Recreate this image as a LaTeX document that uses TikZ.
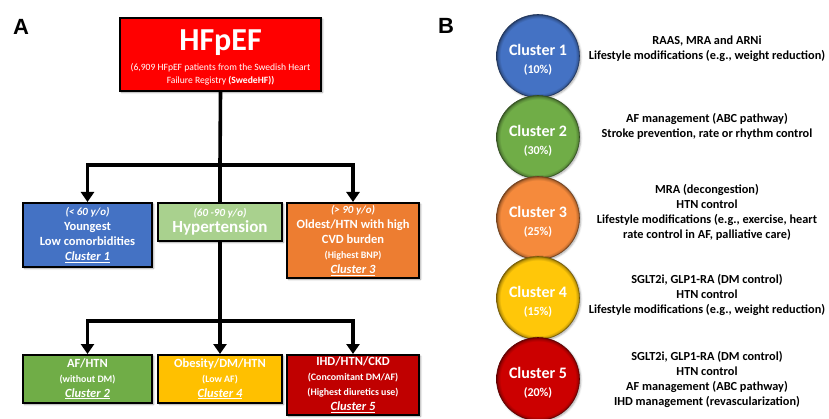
\documentclass[tikz,border=0pt]{standalone}
\usepackage{fontspec}
\setmainfont{Carlito}
\newfontfamily\panelfont{Liberation Sans}
\usetikzlibrary{arrows.meta, positioning, calc, shadows.blur}
\usepackage{xcolor}
\definecolor{hfred}{HTML}{ff0000}
\definecolor{cloneblue}{HTML}{4472c4}
\definecolor{hyplight}{HTML}{a9d18e}
\definecolor{clthreeorange}{HTML}{ed7d31}
\definecolor{cltwogreen}{HTML}{70ad47}
\definecolor{clfouryellow}{HTML}{ffc000}
\definecolor{clfivered}{HTML}{c00000}
\definecolor{ballorange}{HTML}{f58a3c}
\definecolor{ballyellow}{HTML}{ffc709}
\definecolor{ballred}{HTML}{cc0000}
\colorlet{ringc}{cloneblue}
\pgfdeclareradialshading[ringc]{ring}{\pgfpoint{0bp}{0bp}}{%
  color(0bp)=(ringc); color(22.6bp)=(ringc); color(24.2bp)=(ringc!78!black);
  color(25bp)=(ringc!55!black); color(50bp)=(ringc!55!black)}
\tikzset{
  clbox/.style={rectangle, draw=black, line width=1.6pt, text=white,
                align=center, font=\bfseries, inner sep=2pt, anchor=north,
                blur shadow={shadow xshift=1.5pt, shadow yshift=-1.5pt,
                             shadow blur steps=4, shadow opacity=40}},
  ballcol/.code={\colorlet{ringc}{#1}},
  ball/.style={circle, minimum size=83pt, inner sep=0pt, shading=ring,
               ballcol=#1, draw=#1!45!black, line width=0.6pt, text=white,
               align=center, font=\fontsize{16}{17.5}\selectfont\bfseries,
               blur shadow={shadow xshift=1.2pt, shadow yshift=-1.2pt,
                            shadow blur steps=4, shadow opacity=35}},
  txlist/.style={align=center, font=\fontsize{12.3}{15}\selectfont\bfseries},
  trunk/.style={line width=3.6pt, draw=black, line join=miter},
  branch/.style={trunk, -{Triangle[length=10pt, width=13pt]}},
  panel/.style={font=\panelfont\fontsize{22}{24}\selectfont\bfseries},
}
\newcommand{\agebr}[1]{{\fontsize{11}{13}\selectfont\itshape #1}}
\newcommand{\clname}[1]{{\fontsize{12.5}{15}\selectfont\underline{\itshape Cluster #1}}}
\newcommand{\subnote}[1]{{\fontsize{9.9}{12.5}\selectfont #1}}
\newcommand{\ballname}[2]{\rule{0pt}{19pt}Cluster #1\\{\fontsize{12}{14}\selectfont (#2\%)}}

\begin{document}
\begin{tikzpicture}[x=1pt, y=-1pt]
  \useasboundingbox (0,0) rectangle (829,419);

  % --- panel A ---
  \node[panel] (pa) at (21,27) {A};
  \coordinate (split1) at (220,165);
  \coordinate (split2) at (220,321);

  \node[clbox, fill=hfred, minimum width=201pt, minimum height=73pt,
        font=\fontsize{9.6}{13}\selectfont] (hf) at (220.5,17)
    {{\fontsize{32}{34}\selectfont\bfseries\rule{0pt}{28pt}HFpEF}\\[7pt]
     (6,909 HFpEF patients from the Swedish Heart\\
     Failure Registry \textbf{(SwedeHF))}};

  \node[clbox, fill=cloneblue, minimum width=129pt, minimum height=64pt,
        font=\fontsize{12.5}{15}\selectfont\bfseries] (cl1) at (87.5,202)
    {\agebr{(< 60 y/o)}\\Youngest\\Low comorbidities\\\clname{1}};
  \node[clbox, fill=hyplight, minimum width=124pt, minimum height=38pt,
        font=\fontsize{12}{16}\selectfont\bfseries] (hyp) at (220,202)
    {\agebr{(60 -90 y/o)}\\{\fontsize{17}{19}\selectfont Hypertension}};
  \node[clbox, fill=clthreeorange, minimum width=132pt, minimum height=75pt,
        font=\fontsize{12.5}{15}\selectfont\bfseries] (cl3) at (353,202)
    {\agebr{(> 90 y/o)}\\Oldest/HTN with high\\CVD burden\\\subnote{(Highest BNP)}\\\clname{3}};

  \node[clbox, fill=cltwogreen, minimum width=129pt, minimum height=48pt,
        font=\fontsize{12.5}{15}\selectfont\bfseries] (cl2) at (87.5,354)
    {AF/HTN\\\subnote{(without DM)}\\\clname{2}};
  \node[clbox, fill=clfouryellow, minimum width=124pt, minimum height=48pt,
        font=\fontsize{12.5}{15}\selectfont\bfseries] (cl4) at (220,354)
    {Obesity/DM/HTN\\\subnote{(Low AF)}\\\clname{4}};
  \node[clbox, fill=clfivered, minimum width=132pt, minimum height=60pt,
        font=\fontsize{12.5}{15}\selectfont\bfseries] (cl5) at (353,354)
    {IHD/HTN/CKD\\\subnote{(Concomitant DM/AF)}\\\subnote{(Highest diuretics use)}\\\clname{5}};

  \draw[trunk] (hf.south) -- (split1);
  \draw[trunk] (split1) -- (hyp.north);
  \draw[branch] (split1) -| (cl1.north);
  \draw[branch] (split1) -| (cl3.north);

  \draw[trunk] (hyp.south) -- (split2);
  \draw[branch] (split2) -- (cl4.north);
  \draw[branch] (split2) -| (cl2.north);
  \draw[branch] (split2) -| (cl5.north);

  % --- panel B ---
  \node[panel] (pb) at (446,26) {B};

  \node[ball=cloneblue] (b1) at (538,56) {\ballname{1}{10}};
  \node[ball=cltwogreen] (b2) at (538,137) {\ballname{2}{30}};
  \node[ball=ballorange] (b3) at (538,218) {\ballname{3}{25}};
  \node[ball=ballyellow] (b4) at (538,298) {\ballname{4}{15}};
  \node[ball=ballred] (b5) at (538,379) {\ballname{5}{20}};

  \node[txlist] (tx1) at (707,49)
    {RAAS, MRA and ARNi\\Lifestyle modifications (e.g., weight reduction)};
  \node[txlist] (tx2) at (707,126)
    {AF management (ABC pathway)\\Stroke prevention, rate or rhythm control};
  \node[txlist] (tx3) at (707,212)
    {MRA (decongestion)\\HTN control\\Lifestyle modifications (e.g., exercise, heart\\rate control in AF, palliative care)};
  \node[txlist] (tx4) at (707,295)
    {SGLT2i, GLP1-RA (DM control)\\HTN control\\Lifestyle modifications (e.g., weight reduction)};
  \node[txlist] (tx5) at (707,379)
    {SGLT2i, GLP1-RA (DM control)\\HTN control\\AF management (ABC pathway)\\IHD management (revascularization)};
\end{tikzpicture}
\end{document}
